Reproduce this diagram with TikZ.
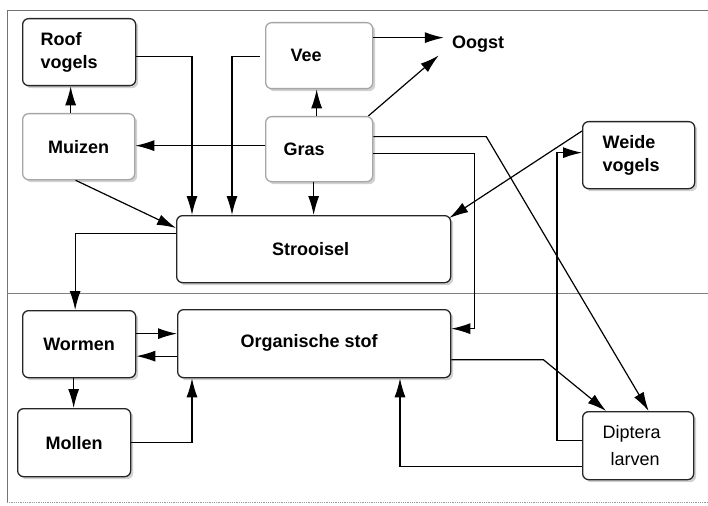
\documentclass[tikz,border=0pt]{standalone}
\usepackage{fontspec}
\setmainfont{Liberation Sans}
\usetikzlibrary{arrows.meta,shadows}
\begin{document}
\begin{tikzpicture}[x=1pt,y=-1pt,
  box/.style={draw=black!85, line width=1.3pt, rounded corners=6pt, fill=white,
    drop shadow={shadow xshift=2.5pt,shadow yshift=-2.5pt,fill=black,opacity=0.18},
    anchor=north west, font=\fontsize{18}{23}\selectfont\bfseries, align=center, inner sep=0pt},
  faint/.style={draw=black!35},
  arr/.style={draw=black, line width=1.2pt, -{Latex[length=19pt,width=11pt]}},
  frame/.style={draw=black!55, line width=0.8pt}]
\useasboundingbox (0,0) rectangle (708,505);
% frame
\draw[frame] (708,10) -- (7,10) -- (7,502);
\draw[frame, densely dotted, black!40] (7,502) -- (708,502);
\draw[frame, black!50] (7,293) -- (708,293);
% nodes
\node[box, minimum width=113pt, minimum height=67pt, text width=77pt, inner xsep=18pt, align=left] (roof) at (22,18) {Roof\\vogels};
\node[box, faint, minimum width=107pt, minimum height=66pt, text width=57pt, inner xsep=25pt, align=left] (vee) at (265,22) {Vee};
\node[box, faint, minimum width=112pt, minimum height=66pt] (muizen) at (22,113) {Muizen};
\node[box, faint, minimum width=107pt, minimum height=65pt, text width=71pt, inner xsep=18pt, align=left] (gras) at (265,116) {Gras};
\node[box, minimum width=112pt, minimum height=67pt, text width=72pt, inner xsep=20pt, align=left] (weide) at (582,121) {Weide\\vogels};
\node[box, minimum width=274pt, minimum height=67pt] (stro) at (176,215) {\hspace*{-6pt}Strooisel};
\node[box, minimum width=113pt, minimum height=67pt] (wormen) at (22,310) {Wormen};
\node[box, minimum width=273pt, minimum height=68pt] (org) at (177,309) {\hspace*{-10pt}\raisebox{5pt}{Organische stof}};
\node[box, minimum width=113pt, minimum height=68pt] (mollen) at (17,408) {Mollen};
\node[box, minimum width=111pt, minimum height=68pt, text width=71pt, inner xsep=20pt, align=left, font=\fontsize{18}{27}\selectfont] (dip) at (582,411) {Diptera\\\hspace*{8pt}larven};
\node[font=\fontsize{18}{20}\selectfont\bfseries, inner xsep=8pt, inner ysep=3pt] (oogst) at (478,44) {Oogst};
% connectors
\draw[arr] ([yshift=-4.5pt]roof.east) -| ([xshift=16pt]stro.north west);
\draw[arr] ([yshift=-1pt,xshift=-5pt]vee.west) -| ([xshift=56pt]stro.north west);
\draw[arr] ([xshift=-2.5pt]gras.north) -- ([xshift=-2.5pt]vee.south);
\draw[arr] ([xshift=-8pt]muizen.north) -- ([xshift=-8pt]muizen.north |- roof.south);
\draw[arr] ([yshift=3.5pt]gras.west) -- ([yshift=3.5pt]gras.west -| muizen.east);
\draw[arr] ([xshift=-3pt]muizen.south) -- ([yshift=-13pt]stro.north west);
\draw[arr] ([xshift=-5.5pt]gras.south) -- ([xshift=-5.5pt]gras.south |- stro.north);
\draw[arr] ([yshift=18pt]vee.east) -- ([yshift=18pt]vee.east -| oogst.west);
\draw[arr] ([xshift=-5pt]gras.north east) -- ([xshift=-5pt]oogst.south west);
\draw[arr] ([yshift=12.5pt]gras.east) -- ++(113,0) -- ([xshift=10.5pt]dip.north);
\draw[arr] ([yshift=-4.5pt]gras.east) -| ([xshift=23pt,yshift=15pt]org.east) -- ([yshift=15pt]org.east);
\draw[arr] ([yshift=-10pt]weide.north west) -- ([xshift=-2pt,yshift=-3pt]stro.north east);
\draw[arr] ([yshift=5pt]dip.west) -| ([xshift=-25pt,yshift=2.5pt]weide.west) -- ([yshift=2.5pt]weide.west);
\draw[arr] ([yshift=15.5pt]stro.west) -| ([xshift=-4pt]wormen.north);
\draw[arr] ([yshift=10.5pt]wormen.east) -- ([yshift=10.5pt]wormen.east -| org.west);
\draw[arr] ([yshift=-12.5pt]org.west) -- ([yshift=-12.5pt]org.west -| wormen.east);
\draw[arr] ([xshift=-5.5pt]wormen.south) -- ([xshift=-5.5pt]wormen.south |- mollen.north);
\draw[arr] (mollen.east) -| ([xshift=15pt]org.south west);
\draw[arr] ([yshift=-16pt]org.east) -- ++(92,0) -- ([xshift=-32pt]dip.north);
\draw[arr] ([yshift=-21pt]dip.west) -| ([xshift=223pt]org.south west);
\end{tikzpicture}
\end{document}
